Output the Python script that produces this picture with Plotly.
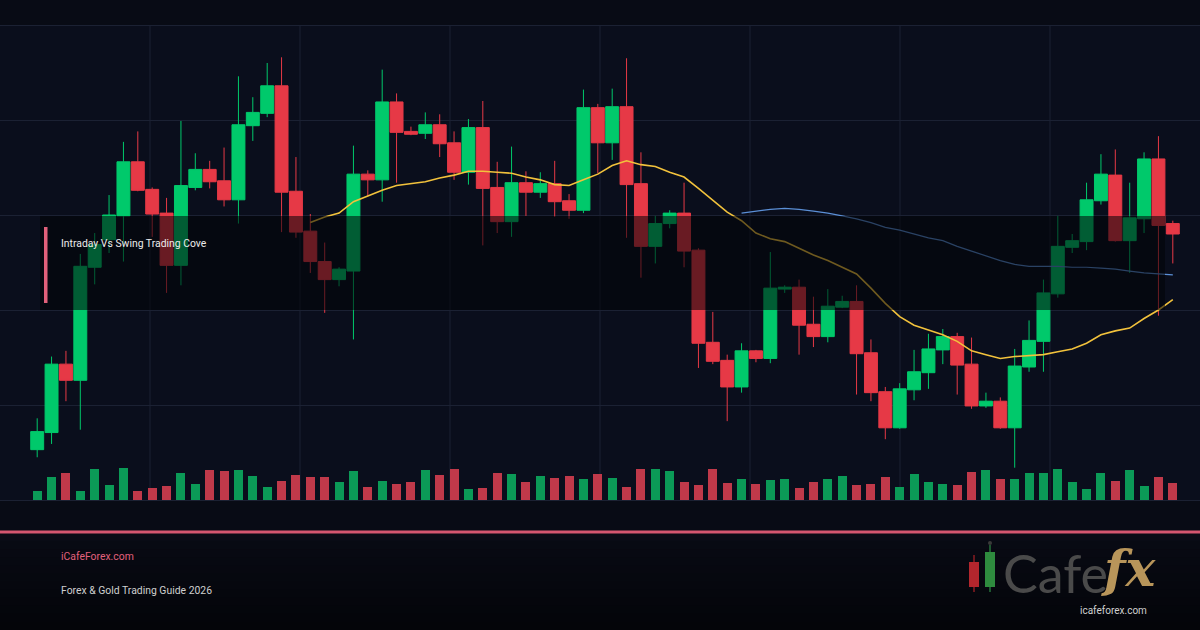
import plotly.graph_objects as go

# ---------------- data ----------------
idx = list(range(80))
open_ = [85.3, 87.1, 94.3, 92.6, 104.5, 107.4, 109.9, 115.6, 112.7, 110.2,
         104.7, 112.9, 114.8, 113.6, 111.6, 119.4, 120.7, 123.6, 112.5, 108.3,
         105.1, 103.2, 104.1, 114.3, 113.7, 121.9, 118.8, 118.6, 119.5, 117.6,
         114.5, 119.2, 112.9, 109.3, 113.4, 112.4, 113.3, 111.5, 110.5, 121.3,
         117.6, 121.4, 113.3, 106.7, 109.1, 110.2, 106.3, 96.6, 94.7, 91.9,
         95.7, 94.9, 102.2, 102.4, 98.5, 97.2, 100.3, 100.9, 95.5, 91.4,
         87.6, 91.6, 93.4, 95.8, 97.2, 94.3, 89.9, 90.4, 87.6, 94.0,
         96.7, 101.7, 106.6, 107.2, 111.5, 114.2, 107.3, 109.6, 115.9, 109.1]
high = [88.6, 95.1, 95.7, 105.9, 108.1, 112.1, 117.7, 118.8, 112.9, 111.8,
        119.9, 116.5, 115.7, 117.1, 124.6, 122.4, 126.0, 126.6, 116.1, 110.1,
        107.1, 104.5, 117.3, 114.7, 125.3, 122.8, 119.3, 120.8, 120.6, 118.8,
        120.1, 122.0, 115.6, 117.2, 114.6, 114.5, 115.7, 112.2, 123.2, 121.7,
        123.3, 126.5, 116.6, 109.9, 110.5, 113.4, 106.5, 99.8, 95.3, 96.5,
        95.8, 106.1, 102.6, 103.2, 101.4, 102.2, 101.5, 102.6, 96.9, 91.9,
        92.3, 95.8, 97.5, 98.0, 97.6, 97.1, 91.3, 90.8, 95.9, 98.9,
        103.2, 109.9, 108.0, 113.4, 116.4, 116.9, 113.4, 116.6, 118.3, 109.4]
low = [84.5, 85.9, 90.4, 87.4, 102.7, 106.0, 105.1, 112.5, 107.7, 101.8,
       102.6, 112.6, 112.8, 110.9, 109.1, 117.8, 120.3, 108.2, 107.6, 103.9,
       99.7, 102.5, 96.9, 112.0, 111.4, 113.4, 118.4, 118.0, 116.1, 113.7,
       113.2, 106.8, 108.1, 107.7, 109.9, 111.8, 109.8, 109.6, 110.2, 114.4,
       115.8, 107.6, 103.4, 104.9, 108.6, 104.5, 93.9, 94.3, 88.3, 91.3,
       94.5, 94.4, 101.8, 95.3, 96.1, 96.6, 100.2, 91.1, 90.4, 86.4,
       87.5, 90.5, 91.7, 94.3, 91.1, 89.6, 89.7, 87.5, 83.4, 93.5,
       93.5, 101.3, 106.0, 106.3, 111.1, 107.2, 103.9, 108.1, 99.4, 104.9]
close = [87.2, 94.3, 92.6, 104.6, 106.9, 110.0, 115.6, 112.6, 110.1, 104.7,
         113.1, 114.8, 113.5, 111.6, 119.5, 120.8, 123.6, 112.4, 108.2, 105.1,
         103.2, 104.3, 114.3, 113.7, 121.9, 118.7, 118.5, 119.5, 117.5, 114.5,
         119.2, 112.8, 109.3, 113.4, 112.4, 113.3, 111.4, 110.5, 121.3, 117.6,
         121.4, 113.2, 106.7, 109.1, 110.2, 106.2, 96.5, 94.6, 91.9, 95.7,
         94.9, 102.3, 102.4, 98.4, 97.2, 100.4, 100.9, 95.4, 91.3, 87.6,
         91.7, 93.5, 95.9, 97.2, 94.2, 89.9, 90.4, 87.6, 94.1, 96.8,
         101.8, 106.7, 107.3, 111.6, 114.3, 107.3, 109.7, 115.9, 108.9, 108.0]
volume = [900, 2300, 2700, 900, 3100, 1500, 3200, 900, 1200, 1400,
          2700, 1600, 3000, 2900, 3000, 2400, 1300, 1900, 2500, 2300,
          2300, 1800, 2900, 1300, 1900, 1600, 1800, 3000, 2500, 3100,
          1100, 1200, 2700, 2600, 1800, 2400, 2200, 2400, 2100, 2600,
          2200, 1300, 3100, 3100, 2900, 1800, 1500, 3100, 1700, 2100,
          1600, 2000, 2100, 1200, 1800, 2100, 2400, 1500, 1600, 2300,
          1300, 2600, 1800, 1600, 1500, 2800, 3000, 2100, 2100, 2700,
          2700, 3100, 1800, 1100, 2700, 1900, 3000, 1400, 2300, 1700]
ma20_x = list(range(19, 80))
ma20 = [109.2, 109.8, 110.2, 111.4, 112.0, 112.6, 113.1, 113.3, 113.5, 113.9,
        114.2, 114.6, 114.6, 114.5, 114.4, 114.0, 113.7, 113.2, 113.1, 113.7,
        114.3, 115.2, 115.7, 115.3, 115.1, 114.5, 114.0, 112.8, 111.5, 110.3,
        109.4, 108.1, 107.5, 107.2, 106.5, 105.8, 105.2, 104.5, 103.8, 102.3,
        100.7, 99.3, 98.4, 97.9, 97.4, 96.7, 95.7, 95.3, 94.9, 95.1,
        95.2, 95.3, 95.6, 95.9, 96.5, 97.4, 97.8, 98.1, 99.1, 100.0, 101.1]
ma50_x = list(range(49, 80))
ma50 = [110.2, 110.4, 110.6, 110.7, 110.6, 110.4, 110.2, 109.9, 109.6, 109.2,
        108.7, 108.4, 108.0, 107.6, 107.3, 106.7, 106.2, 105.7, 105.2, 104.8,
        104.6, 104.6, 104.6, 104.5, 104.5, 104.4, 104.3, 104.1, 103.9, 103.8, 103.7]
grid_prices = [80, 90, 100, 110, 120, 130]

title_text = "Intraday Vs Swing Trading Cove"
site_text = "iCafeForex.com"
guide_text = "Forex & Gold Trading Guide 2026"

# ---------------- style ----------------
GREEN = "#00c96b"
RED = "#e63946"
VGREEN = "#0b9a57"
VRED = "#c0394a"
W, H = 1200, 630

def py(px):  # pixel row -> paper y
    return 1 - px / H

def pxx(px):
    return px / W

fig = go.Figure()

vol_colors = [VGREEN if c >= o else VRED for o, c in zip(open_, close)]
fig.add_trace(go.Bar(x=idx, y=volume, marker=dict(color=vol_colors, line=dict(width=0)),
                     width=0.63, yaxis="y2", hoverinfo="skip", showlegend=False))

fig.add_trace(go.Candlestick(
    x=idx, open=open_, high=high, low=low, close=close,
    increasing=dict(line=dict(color=GREEN, width=1), fillcolor=GREEN),
    decreasing=dict(line=dict(color=RED, width=1), fillcolor=RED),
    whiskerwidth=0, showlegend=False, hoverinfo="skip"))

fig.add_trace(go.Scatter(x=ma20_x, y=ma20, mode="lines",
                         line=dict(color="#f2c23c", width=1.6), hoverinfo="skip", showlegend=False))
fig.add_trace(go.Scatter(x=ma50_x, y=ma50, mode="lines",
                         line=dict(color="#5b8fd6", width=1.2), hoverinfo="skip", showlegend=False))

shapes = []
# chart panel background
shapes.append(dict(type="rect", xref="paper", yref="paper", x0=0, x1=1, y0=py(500), y1=py(25),
                   fillcolor="#0a0e1c", line=dict(width=0), layer="below"))
# footer gradient
n = 12
for k in range(n):
    t = k / (n - 1)
    r = int(9 - 5 * t); g = int(11 - 6 * t); b = int(21 - 12 * t)
    y0 = 533 + (630 - 533) * k / n
    y1 = 533 + (630 - 533) * (k + 1) / n
    shapes.append(dict(type="rect", xref="paper", yref="paper", x0=0, x1=1, y0=py(y1 + 0.5), y1=py(y0),
                       fillcolor=f"rgb({r},{g},{b})", line=dict(width=0), layer="below"))
# vertical grid lines
for k in range(1, 8):
    shapes.append(dict(type="line", xref="paper", yref="paper", x0=k / 8, x1=k / 8,
                       y0=py(500), y1=py(25), line=dict(color="#1b2133", width=1), layer="below"))
# overlay title box
shapes.append(dict(type="rect", xref="paper", yref="paper", x0=pxx(40), x1=pxx(1165),
                   y0=py(310), y1=py(216), fillcolor="rgba(2,3,8,0.55)", line=dict(width=0), layer="above"))
shapes.append(dict(type="rect", xref="paper", yref="paper", x0=pxx(44), x1=pxx(47.5),
                   y0=py(303), y1=py(227), fillcolor="#e0607a", line=dict(width=0), layer="above"))
# pink separator
shapes.append(dict(type="rect", xref="paper", yref="paper", x0=0, x1=1,
                   y0=py(533.5), y1=py(530.5), fillcolor="#d4566f", line=dict(width=0), layer="above"))
# logo candles
shapes.append(dict(type="line", xref="paper", yref="paper", x0=pxx(974), x1=pxx(974),
                   y0=py(592), y1=py(555), line=dict(color="#8a1d22", width=1.5), layer="above"))
shapes.append(dict(type="rect", xref="paper", yref="paper", x0=pxx(969), x1=pxx(979),
                   y0=py(587), y1=py(562), fillcolor="#b3262d", line=dict(width=0), layer="above"))
shapes.append(dict(type="line", xref="paper", yref="paper", x0=pxx(990), x1=pxx(990),
                   y0=py(592), y1=py(545), line=dict(color="#24703a", width=1.5), layer="above"))
shapes.append(dict(type="rect", xref="paper", yref="paper", x0=pxx(985), x1=pxx(995),
                   y0=py(587), y1=py(552), fillcolor="#2e8b3e", line=dict(width=0), layer="above"))
shapes.append(dict(type="circle", xref="paper", yref="paper", x0=pxx(988), x1=pxx(992),
                   y0=py(545), y1=py(541), fillcolor="#3a3a3a", line=dict(width=0), layer="above"))

annotations = [
    dict(text=title_text, xref="paper", yref="paper", x=pxx(59), y=py(244), xanchor="left",
         yanchor="middle", showarrow=False, font=dict(family="Roboto", size=10.4, color="#ececec")),
    dict(text=site_text, xref="paper", yref="paper", x=pxx(59), y=py(556), xanchor="left",
         yanchor="middle", showarrow=False, font=dict(family="Roboto", size=10.4, color="#e2607c")),
    dict(text=guide_text, xref="paper", yref="paper", x=pxx(59), y=py(590), xanchor="left",
         yanchor="middle", showarrow=False, font=dict(family="Roboto", size=10.4, color="#cfcfcf")),
    dict(text="Cafe", xref="paper", yref="paper", x=pxx(1001), y=py(573), xanchor="left",
         yanchor="middle", showarrow=False, font=dict(family="Lato", size=52, color="#4a4a4a")),
    dict(text="fx", xref="paper", yref="paper", x=pxx(1099), y=py(568), xanchor="left",
         yanchor="middle", showarrow=False,
         font=dict(family="DejaVu Serif", size=50, color="#b8955a", style="italic", weight="bold")),
    dict(text="icafeforex.com", xref="paper", yref="paper", x=pxx(1113), y=py(610), xanchor="center",
         yanchor="middle", showarrow=False, font=dict(family="Roboto", size=10, color="#d0d0d0")),
]

x0 = -37.1875 / 14.375
fig.update_layout(
    width=W, height=H, margin=dict(l=0, r=0, t=0, b=0),
    paper_bgcolor="#080b15", plot_bgcolor="rgba(0,0,0,0)",
    showlegend=False, boxgap=0.1, boxgroupgap=0, bargap=0,
    xaxis=dict(range=[x0, x0 + W / 14.375], visible=False, fixedrange=True,
               rangeslider=dict(visible=False)),
    yaxis=dict(range=[100 - 320 / 9.5, 100 + 310 / 9.5], domain=[0, 1], tickvals=grid_prices,
               showticklabels=False, showgrid=True, gridcolor="#1b2133", gridwidth=1,
               zeroline=False, showline=False, fixedrange=True),
    yaxis2=dict(range=[-13000, 50000], overlaying="y", visible=False, fixedrange=True),
    shapes=shapes, annotations=annotations,
)

fig.write_html("out.html")
